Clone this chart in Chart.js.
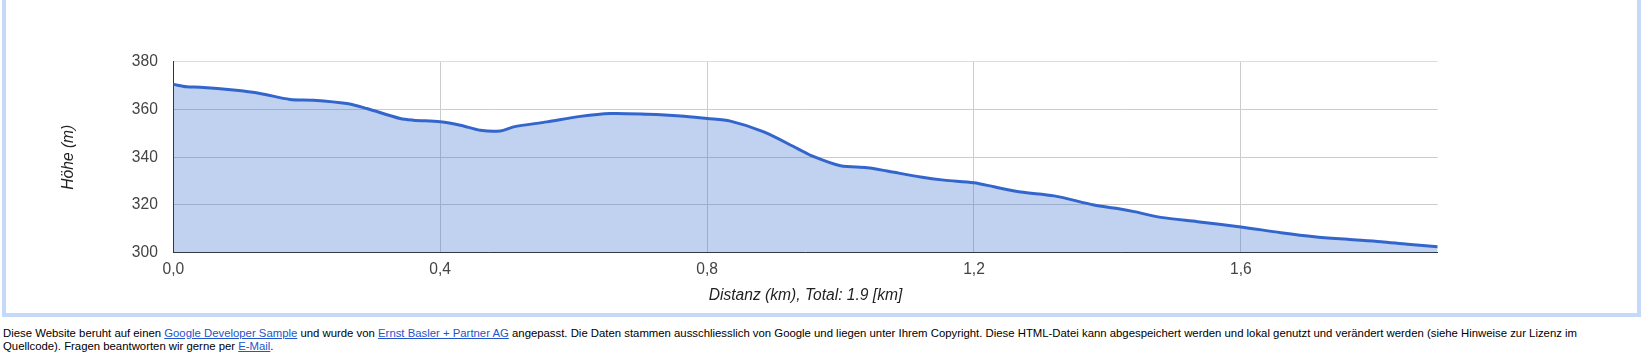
<!DOCTYPE html>
<html>
<head>
<meta charset="utf-8">
<script src="https://cdn.jsdelivr.net/npm/chart.js@4"></script>
<style>
  body { margin: 0; background: #fff; font-family: Arial, "Liberation Sans", sans-serif; }
  #box {
    position: absolute; left: 2px; top: 0;
    width: 1631px; height: 313px;
    border: 4px solid #c5d9f9; border-top: none;
  }
  #footer {
    position: absolute; left: 3px; top: 327px;
    font-size: 11.35px; line-height: 12.6px; color: #000; white-space: nowrap;
  }
  #footer a { color: #2255cc; text-decoration: underline; }
</style>
</head>
<body>
<div id="box"><canvas id="profile" width="1631" height="313"></canvas></div>
<div id="footer">Diese Website beruht auf einen <a href="#">Google Developer Sample</a> und wurde von <a href="#">Ernst Basler + Partner AG</a> angepasst. Die Daten stammen ausschliesslich von Google und liegen unter Ihrem Copyright. Diese HTML-Datei kann abgespeichert werden und lokal genutzt und verändert werden (siehe Hinweise zur Lizenz im<br>Quellcode). Fragen beantworten wir gerne per <a href="#">E-Mail</a>.</div>
<script>
// Elevation profile
const distKm = [0, 0.02, 0.04, 0.09, 0.13, 0.175, 0.21, 0.26, 0.29, 0.34, 0.36, 0.40, 0.43, 0.46, 0.49,
  0.51, 0.56, 0.61, 0.655, 0.71, 0.76, 0.80, 0.835, 0.885, 0.935, 0.96, 1.0, 1.04, 1.07, 1.12, 1.155,
  1.2, 1.23, 1.27, 1.32, 1.38, 1.415, 1.44, 1.48, 1.535, 1.6, 1.66, 1.71, 1.76, 1.81, 1.85, 1.895];
const heightM = [370.5, 369.5, 369.3, 368.1, 366.7, 364.2, 363.9, 362.5, 360.4, 356.2, 355.5, 354.8, 353.4, 351.3, 351.0,
  352.7, 354.8, 357.1, 358.3, 358.0, 357.3, 356.2, 355.1, 350.6, 343.7, 340.2, 336.4, 335.6, 334.2, 331.7, 330.4,
  329.3, 327.6, 325.4, 323.8, 320.0, 318.5, 317.2, 314.8, 313.0, 310.8, 308.4, 306.7, 305.6, 304.6, 303.5, 302.5];
const xTicks = [0, 0.4, 0.8, 1.2, 1.6];
const yTicks = [300, 320, 340, 360, 380];
const totalKm = 1.9;

const tickFont = { family: 'Arial, "Liberation Sans", sans-serif', size: 15.6 };
const titleFont = { family: 'Arial, "Liberation Sans", sans-serif', size: 15.6, style: 'italic' };

new Chart(document.getElementById('profile'), {
  type: 'line',
  data: {
    datasets: [{
      data: distKm.map((d, i) => ({ x: d, y: heightM[i] })),
      borderColor: '#3366cc',
      backgroundColor: 'rgba(51,102,204,0.3)',
      borderWidth: 3,
      fill: 'origin',
      pointRadius: 0,
      tension: 0.3
    }]
  },
  options: {
    responsive: false,
    animation: false,
    layout: { padding: { top: 61.7, right: 199.3, left: 0, bottom: 0 } },
    plugins: { legend: { display: false }, tooltip: { enabled: false } },
    scales: {
      x: {
        type: 'linear',
        min: 0,
        max: 1.895,
        afterBuildTicks: s => { s.ticks = xTicks.map(v => ({ value: v })); },
        afterFit: s => { s.height = 60.3; },
        grid: { color: '#cccccc', drawTicks: false },
        border: { color: '#333333' },
        ticks: {
          color: '#444444', font: tickFont, padding: 7.3, maxRotation: 0,
          callback: v => v.toFixed(1).replace('.', ',')
        },
        title: { display: true, text: 'Distanz (km), Total: ' + totalKm + ' [km]', color: '#222222', font: titleFont, padding: { bottom: 7.6 } }
      },
      y: {
        min: 300,
        max: 380,
        afterBuildTicks: s => { s.ticks = yTicks.map(v => ({ value: v })); },
        afterFit: s => { s.width = 167.3; },
        grid: { color: c => c.tick && c.tick.value === 380 ? '#dddddd' : '#cccccc', drawTicks: false },
        border: { color: '#333333' },
        ticks: { color: '#444444', font: tickFont, padding: 15.5 },
        title: { display: true, text: 'Höhe (m)', color: '#222222', font: titleFont, padding: { top: 53.6 } }
      }
    }
  }
});
</script>
</body>
</html>
